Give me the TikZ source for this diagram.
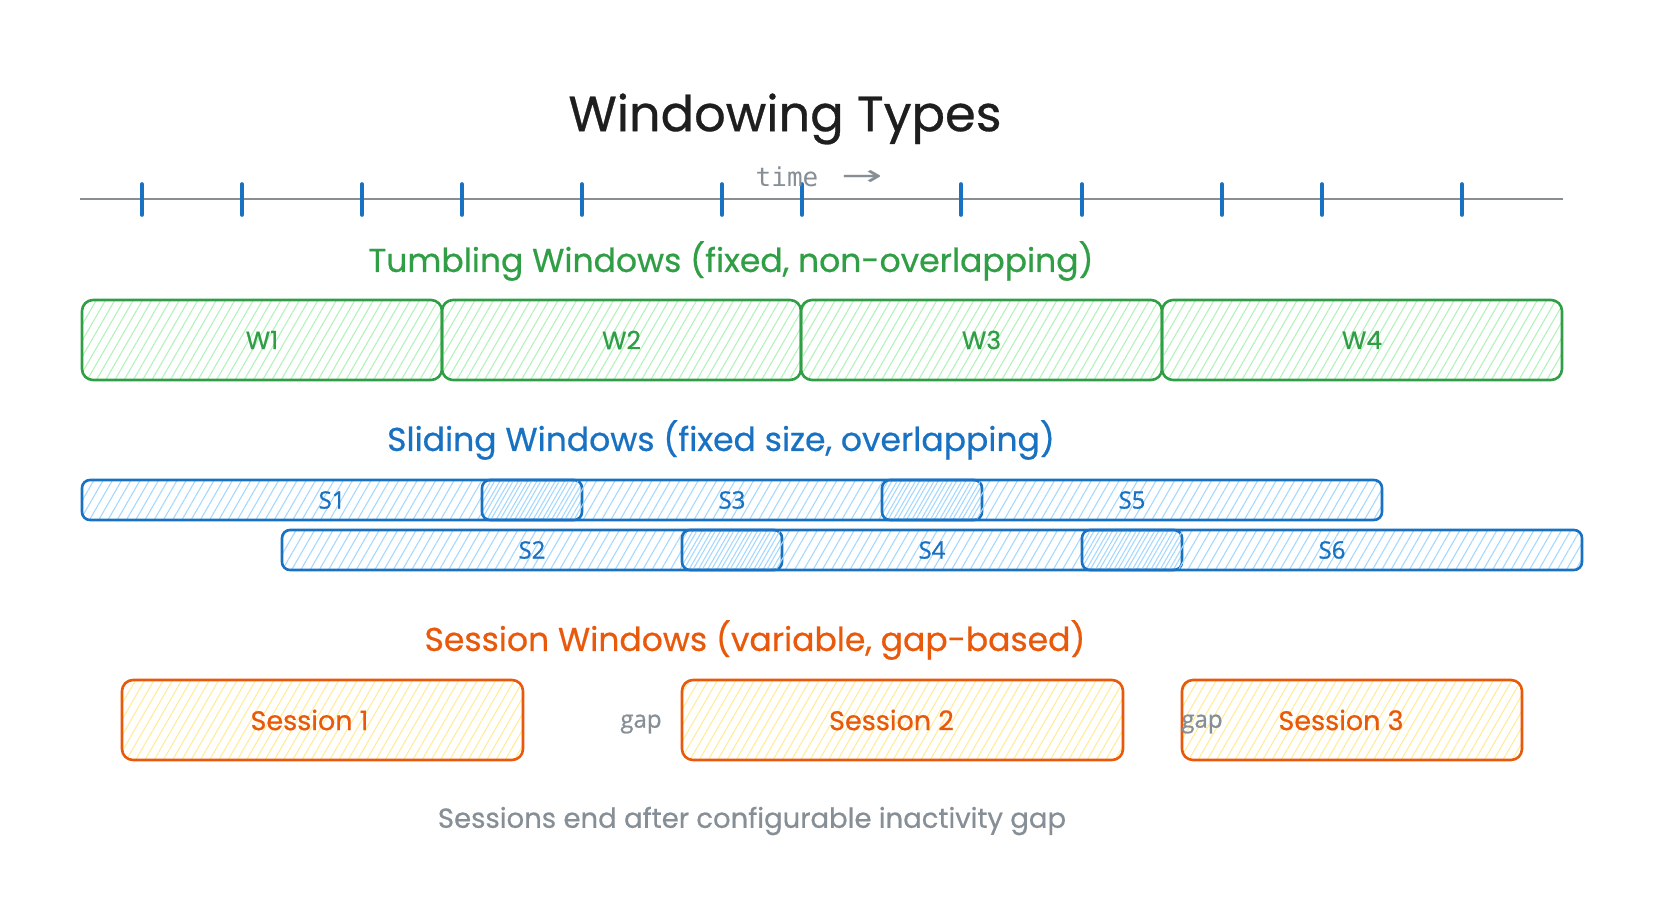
\documentclass[tikz,border=0pt]{standalone}
\usepackage{fontspec}
\setmainfont{Poppins}[FakeBold=0.6]
\newfontfamily\labfont{Open Sans}[FakeBold=0.9]
\newfontfamily\codefont{DejaVu Sans Mono}
\newfontfamily\arrowfont{DejaVu Sans}
\usetikzlibrary{patterns.meta}
\definecolor{gstroke}{HTML}{2F9E44}
\definecolor{gfill}{HTML}{B2F2BB}
\definecolor{bstroke}{HTML}{1971C2}
\definecolor{bfill}{HTML}{A5D8FF}
\definecolor{ostroke}{HTML}{E8590C}
\definecolor{ofill}{HTML}{FFEC99}
\definecolor{greytxt}{HTML}{868E96}
\definecolor{titlec}{HTML}{1E1E1E}
\begin{document}
\begin{tikzpicture}[x=1pt,y=-1pt,
  box/.style={draw, line width=2.6pt, rounded corners=11pt, inner sep=0pt, font=\fontsize{25}{30}\selectfont},
  wbox/.style={box, draw=gstroke, text=gstroke, minimum height=80pt,
     pattern={Lines[angle=60,distance=8pt,line width=1.1pt]}, pattern color=gfill},
  sbox/.style={box, draw=bstroke, text=bstroke, minimum height=40pt, minimum width=500pt, rounded corners=8pt,
     font=\labfont\fontsize{24}{28}\selectfont,
     pattern={Lines[angle=60,distance=8pt,line width=1.1pt]}, pattern color=bfill},
  sboxb/.style={sbox, pattern={Lines[angle=60,distance=8pt,line width=1.1pt,xshift=4pt]}},
  obox/.style={box, draw=ostroke, text=ostroke, minimum height=80pt, font=\fontsize{27}{32}\selectfont,
     pattern={Lines[angle=60,distance=8pt,line width=1.1pt]}, pattern color=ofill},
  heading/.style={font=\fontsize{33}{38}\selectfont},
  gaptxt/.style={text=greytxt, font=\labfont\fontsize{24}{28}\selectfont},
  tick/.style={draw=bstroke, line width=3.6pt, line cap=round},
  axisline/.style={draw=greytxt, line width=2.6pt}
]
\useasboundingbox (0,0) rectangle (1662,915);

% title
\node[text=titlec, font=\fontsize{49.5}{58}\selectfont] (title) at (785,119) {Windowing Types};

% time axis
\coordinate (ax0) at (80,199);
\coordinate (ax1) at (1563,199);
\draw[axisline] (ax0) -- (ax1);
\foreach \x in {142,242,362,462,582,722,802,961,1082,1222,1322,1462}{
  \draw[tick] (\x,184) -- (\x,215);
}
\node[text=greytxt, font=\codefont\fontsize{26}{30}\selectfont] (timelbl) at (787,177) {time};
\node[text=greytxt, font=\arrowfont\fontsize{26}{30}\selectfont] (timearr) at (862,178) {\scalebox{1.9}[1.1]{→}};

% tumbling
\node[heading, text=gstroke] (tumbh) at (731,261) {Tumbling Windows (fixed, non-overlapping)};
\node[wbox, minimum width=360pt] (w1) at (262,340) {W1};
\node[wbox, minimum width=359pt] (w2) at (621.5,340) {W2};
\node[wbox, minimum width=361pt] (w3) at (981.5,340) {W3};
\node[wbox, minimum width=400pt] (w4) at (1362,340) {W4};

% sliding
\node[heading, text=bstroke] (slidh) at (721,440) {Sliding Windows (fixed size, overlapping)};
\node[sbox] (s1) at (332,500) {S1};
\node[sboxb] (s3) at (732,500) {S3};
\node[sbox] (s5) at (1132,500) {S5};
\node[sbox] (s2) at (532,550) {S2};
\node[sboxb] (s4) at (932,550) {S4};
\node[sbox] (s6) at (1332,550) {S6};

% session
\node[heading, text=ostroke] (sessh) at (755,640) {Session Windows (variable, gap-based)};
\node[obox, minimum width=401pt] (se1) at (322.5,720) {Session 1\hspace*{26pt}};
\node[obox, minimum width=441pt] (se2) at (902.5,720) {Session 2\hspace*{22pt}};
\node[obox, minimum width=340pt] (se3) at (1352,720) {Session 3\hspace*{22pt}};
\node[gaptxt] (gap1) at (641,724) {gap};
\node[gaptxt] (gap2) at (1202,724) {gap};

% caption
\node[text=greytxt, font=\fontsize{27.5}{32}\selectfont] (caption) at (752,821) {Sessions end after configurable inactivity gap};
\end{tikzpicture}
\end{document}
